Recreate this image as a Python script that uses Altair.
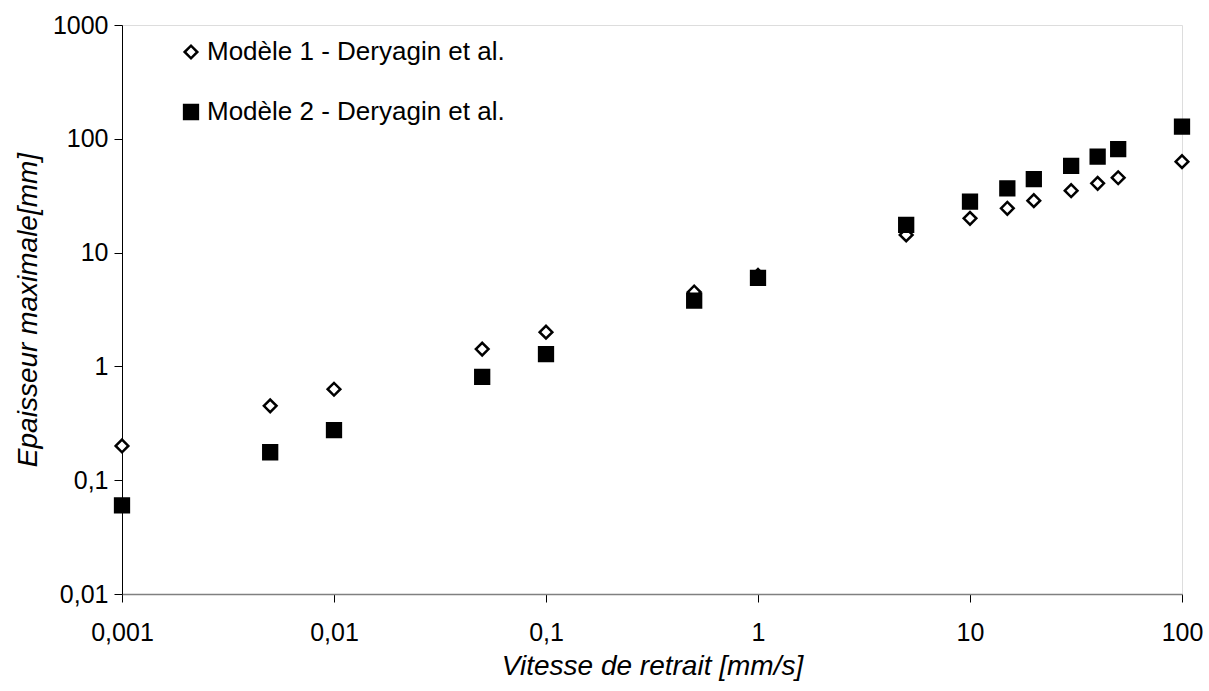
import altair as alt
import pandas as pd

vitesse = [0.001, 0.005, 0.01, 0.05, 0.1, 0.5, 1, 5, 10, 15, 20, 30, 40, 50, 100]
modele1 = [0.2, 0.45, 0.63, 1.42, 2.0, 4.5, 6.3, 14.3, 20, 24.5, 28.6, 35, 40.6, 45.5, 63]
modele2 = [0.06, 0.176, 0.276, 0.81, 1.28, 3.78, 6.0, 17.5, 28, 36.7, 44.3, 57.7, 69.6, 81, 128]
series = ["Modèle 1 - Deryagin et al.", "Modèle 2 - Deryagin et al."]
x_ticks = [0.001, 0.01, 0.1, 1, 10, 100]
y_ticks = [0.01, 0.1, 1, 10, 100, 1000]

rows = []
for v, a, b in zip(vitesse, modele1, modele2):
    rows.append({"x": v, "y": a, "s": series[0]})
    rows.append({"x": v, "y": b, "s": series[1]})
df = pd.DataFrame(rows)

FONT = "Liberation Sans"
label_expr = "replace(toString(datum.value), '.', ',')"

leg = alt.Legend(title=None, orient="none", legendX=56, legendY=14,
                 labelFont=FONT, labelFontSize=26, labelColor="black", labelLimit=0,
                 symbolStrokeWidth=2.5, rowPadding=34, labelOffset=3)

chart = alt.Chart(df).mark_point(filled=True, strokeWidth=2.5, opacity=1).encode(
    x=alt.X("x:Q",
            scale=alt.Scale(type="log", domain=[0.001, 100], nice=False),
            axis=alt.Axis(values=x_ticks, labelExpr=label_expr, title="Vitesse de retrait [mm/s]",
                          grid=False, domainColor="#808080", domainWidth=1.5, tickColor="black",
                          tickSize=8, labelFontSize=25, labelPadding=18, titleFontSize=28,
                          titleFontStyle="italic", titleFontWeight="normal", titlePadding=7,
                          labelFont=FONT, titleFont=FONT, labelColor="black", titleColor="black",
                          labelFlush=False, labelOverlap=False)),
    y=alt.Y("y:Q",
            scale=alt.Scale(type="log", domain=[0.01, 1000], nice=False),
            axis=alt.Axis(values=y_ticks, labelExpr=label_expr, title="Epaisseur maximale[mm]",
                          grid=False, domainColor="black", domainWidth=1, tickColor="black",
                          tickSize=8, labelFontSize=25, labelPadding=6, titleFontSize=28,
                          titleFontStyle="italic", titleFontWeight="normal", titlePadding=10,
                          labelFont=FONT, titleFont=FONT, labelColor="black", titleColor="black",
                          labelFlush=False, labelOverlap=False)),
    shape=alt.Shape("s:N", scale=alt.Scale(domain=series, range=["diamond", "square"]), legend=leg),
    fill=alt.Fill("s:N", scale=alt.Scale(domain=series, range=["white", "black"]), legend=leg),
    stroke=alt.Stroke("s:N", scale=alt.Scale(domain=series, range=["black", "black"]), legend=leg),
    size=alt.Size("s:N", scale=alt.Scale(domain=series, range=[160, 190]), legend=leg),
).properties(
    width=1060, height=569,
    padding={"left": 122, "top": 25, "right": 27, "bottom": 97},
    autosize=alt.AutoSizeParams(type="none"),
).configure_view(stroke=None).configure(background="white")

chart.save("out.html", embed_options={"renderer": "svg", "actions": False})
